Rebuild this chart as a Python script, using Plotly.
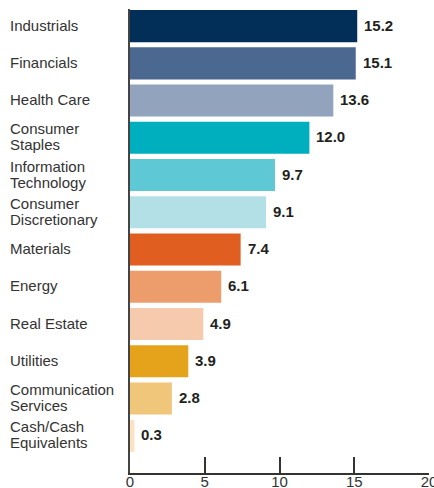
import plotly.graph_objects as go

categories = ["Industrials", "Financials", "Health Care", "Consumer Staples",
              "Information Technology", "Consumer Discretionary", "Materials",
              "Energy", "Real Estate", "Utilities", "Communication Services",
              "Cash/Cash Equivalents"]
label_lines = [["Industrials"], ["Financials"], ["Health Care"], ["Consumer", "Staples"],
               ["Information", "Technology"], ["Consumer", "Discretionary"], ["Materials"],
               ["Energy"], ["Real Estate"], ["Utilities"], ["Communication", "Services"],
               ["Cash/Cash", "Equivalents"]]
values = [15.2, 15.1, 13.6, 12.0, 9.7, 9.1, 7.4, 6.1, 4.9, 3.9, 2.8, 0.3]
colors = ["#012f57", "#4a6890", "#92a4bd", "#00afbd", "#5ec8d4", "#b2e0e6",
          "#e05f20", "#ed9d6c", "#f6cbad", "#e5a31c", "#f0c67a", "#fbe3c2"]
x_ticks = [0, 5, 10, 15, 20]

W, H = 434, 488
ML, MR, MT, MB = 130, 5, 9, 15
plot_w = W - ML - MR

fig = go.Figure(go.Bar(
    x=values, y=categories, orientation="h",
    marker=dict(color=colors, line=dict(width=0)),
    hoverinfo="skip",
))

annotations = []
for cat, lines in zip(categories, label_lines):
    n = len(lines)
    for i, line in enumerate(lines):
        shift = 1 + ((n - 1) / 2 - i) * 16
        annotations.append(dict(
            x=-(ML - 8) / plot_w, xref="paper", y=cat, yref="y",
            text=line, showarrow=False, xanchor="left", yanchor="middle",
            yshift=shift,
            font=dict(family="Liberation Sans, Arial, sans-serif", size=15, color="#333333"),
        ))
for cat, v in zip(categories, values):
    annotations.append(dict(
        x=v, xref="x", y=cat, yref="y", text=f"<b>{v:.1f}</b>",
        showarrow=False, xanchor="left", yanchor="middle", xshift=5, yshift=1,
        font=dict(family="Liberation Sans, Arial, sans-serif", size=15, color="#231f20"),
    ))

fig.update_layout(
    width=W, height=H,
    margin=dict(l=ML, r=MR, t=MT, b=MB, autoexpand=False),
    paper_bgcolor="white", plot_bgcolor="white",
    bargap=0.14, showlegend=False,
    annotations=annotations,
    xaxis=dict(range=[0, 20], tickvals=x_ticks, ticks="inside", ticklen=16,
               tickwidth=1.5, tickcolor="#333333", showgrid=False, zeroline=False,
               showline=True, linecolor="#333333", linewidth=1.5, automargin=False,
               ticklabeloverflow="allow", ticklabelstandoff=-6,
               tickfont=dict(family="Liberation Sans, Arial, sans-serif", size=15, color="#333333")),
    yaxis=dict(type="category", categoryorder="array", categoryarray=categories,
               range=[12.0, -0.46], showticklabels=False, ticks="", showgrid=False,
               zeroline=False, showline=True, linecolor="#444444", linewidth=1.5,
               automargin=False),
)

fig.write_html("out.html")
